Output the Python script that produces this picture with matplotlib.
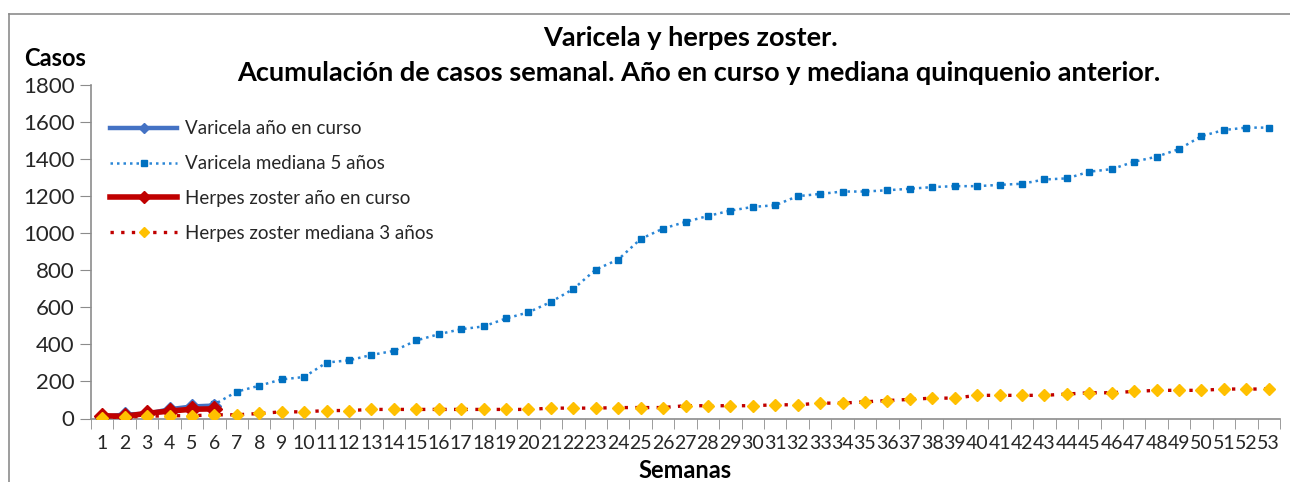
import matplotlib
matplotlib.use("Agg")
import matplotlib.pyplot as plt
from matplotlib.lines import Line2D

plt.rcParams['font.family'] = ['Lato', 'DejaVu Sans']

weeks = list(range(1, 54))

varicela_actual = [8, 22, 25, 50, 65, 70]
herpes_actual = [15, 12, 28, 40, 50, 52]

varicela_mediana = [5, 15, 22, 35, 50, 76, 145, 177, 211, 224, 302, 314, 343, 365, 421,
                    455, 482, 497, 540, 573, 629, 699, 804, 858, 969, 1025, 1061, 1093,
                    1122, 1142, 1151, 1200, 1212, 1225, 1225, 1232, 1240, 1249, 1254,
                    1254, 1261, 1267, 1290, 1296, 1332, 1346, 1386, 1413, 1454, 1524,
                    1557, 1570, 1570]

herpes_mediana = [5, 8, 12, 15, 15, 20, 20, 27, 36, 36, 43, 43, 49, 49, 49, 49, 49, 49,
                  49, 49, 56, 56, 56, 59, 59, 59, 69, 69, 69, 69, 74, 74, 83, 83, 90, 97,
                  103, 110, 110, 125, 125, 125, 125, 132, 139, 139, 146, 152, 152, 152,
                  159, 159, 159]

legend_labels = ["Varicela año en curso", "Varicela mediana 5 años",
                 "Herpes zoster año en curso", "Herpes zoster mediana 3 años"]

title_lines = ["Varicela y herpes zoster.",
               "Acumulación de casos semanal. Año en curso y mediana quinquenio anterior."]

fig = plt.figure(figsize=(12.9, 4.82), dpi=100)
ax = fig.add_axes([91/1290, 1 - 418.5/482, (1280-91)/1290, (418.5-85)/482])

# chart border (top and left visible)
fig.add_artist(Line2D([9/1290, 1.0], [1 - 14/482, 1 - 14/482], color='#8c8c8c', lw=1.2,
                      transform=fig.transFigure))
fig.add_artist(Line2D([9/1290, 9/1290], [0, 1 - 14/482], color='#8c8c8c', lw=1.2,
                      transform=fig.transFigure))

ax.plot(weeks, varicela_mediana, linestyle=(0, (1, 1.6)), color='#2A86D6', lw=1.8,
        marker='s', markersize=5, markerfacecolor='#0070C0', markeredgecolor='#0070C0',
        label=legend_labels[1], zorder=3)
ax.plot(weeks, herpes_mediana, linestyle=(0, (1, 2.2)), color='#C00000', lw=2.4,
        marker='D', markersize=6, markerfacecolor='#FFC000', markeredgecolor='#FFC000',
        label=legend_labels[3], zorder=3)
ax.plot(weeks[:len(varicela_actual)], varicela_actual, color='#4472C4', lw=3.2,
        marker='D', markersize=7, markerfacecolor='#4472C4', markeredgecolor='#4472C4',
        label=legend_labels[0], zorder=4)
ax.plot(weeks[:len(herpes_actual)], herpes_actual, color='#C00000', lw=4,
        marker='D', markersize=8, markerfacecolor='#C00000', markeredgecolor='#C00000',
        label=legend_labels[2], zorder=5)
# yellow markers of herpes mediana over early weeks
ax.plot(weeks[:6], herpes_mediana[:6], linestyle='none', marker='D', markersize=6,
        markerfacecolor='#FFC000', markeredgecolor='#FFC000', zorder=6)

ax.set_xlim(0.5, 53.5)
ax.set_ylim(0, 1800)
ax.set_yticks(range(0, 1801, 200))
ax.set_xticks(weeks)
ax.set_xticklabels([str(w) for w in weeks], fontsize=14, color='#262626')
ax.set_xticks([w + 0.5 for w in range(0, 54)], minor=True)
ax.tick_params(axis='x', which='major', length=0, pad=12)
ax.tick_params(axis='x', which='minor', length=7, color='#8c8c8c', direction='out')
ax.tick_params(axis='y', length=8, color='#8c8c8c', direction='out', labelsize=16,
               labelcolor='#262626', pad=4)
for s in ['top', 'right']:
    ax.spines[s].set_visible(False)
for s in ['left', 'bottom']:
    ax.spines[s].set_color('#8c8c8c')
    ax.spines[s].set_linewidth(1.2)

handles, labels = ax.get_legend_handles_labels()
order = [labels.index(l) for l in legend_labels]
leg = ax.legend([handles[i] for i in order], [labels[i] for i in order],
                loc='upper left', bbox_to_anchor=(0.0, 0.95), frameon=False,
                fontsize=13.5, handlelength=3.6, labelspacing=0.95, borderaxespad=0.6,
                handletextpad=0.4, markerscale=0.8, numpoints=1)
for t in leg.get_texts():
    t.set_color('#262626')

fig.text(690/1290, 1 - 38/482, title_lines[0], ha='center', va='center', fontsize=19.5,
         fontweight='bold', color='#000000')
fig.text(699/1290, 1 - 73/482, title_lines[1], ha='center', va='center', fontsize=19.5,
         fontweight='bold', color='#000000')
fig.text(55/1290, 1 - 58/482, "Casos", ha='center', va='center', fontsize=17,
         fontweight='bold', color='#000000')
fig.text(685/1290, 1 - 471/482, "Semanas", ha='center', va='center', fontsize=17,
         fontweight='bold', color='#000000')

fig.savefig("out.png", dpi=100)
